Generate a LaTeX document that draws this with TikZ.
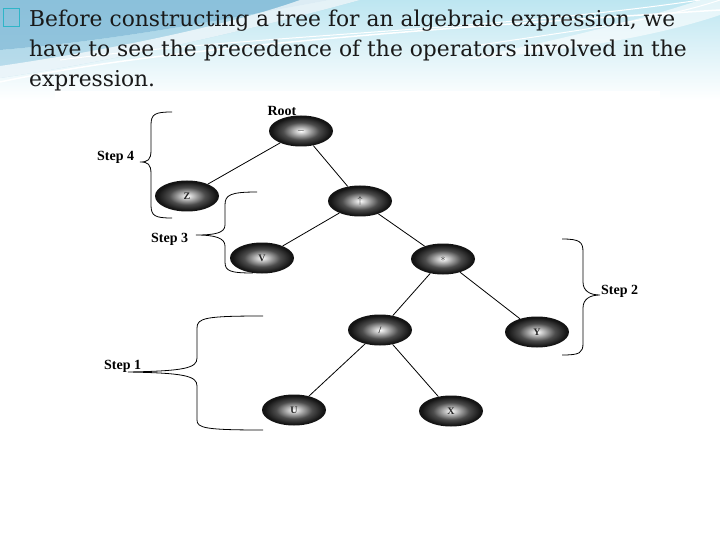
\documentclass[tikz,border=0pt]{standalone}
\usepackage{fontspec}
\newfontfamily\timesfont{Liberation Serif}
\newfontfamily\titlefont{DejaVu Serif}
\usetikzlibrary{shapes.geometric}
\pgfdeclareradialshading{ball}{\pgfpoint{0bp}{0bp}}{color(0bp)=(white); color(6bp)=(black!30); color(14bp)=(black!70); color(23bp)=(black!92); color(50bp)=(black)}
\definecolor{bgblue}{HTML}{7FB8D6}
\definecolor{bgcyan}{HTML}{BDE6F1}
\definecolor{bullet}{HTML}{2FB5C8}
\tikzset{
  tnode/.style={ellipse, shading=ball, minimum width=64pt, minimum height=31pt, inner sep=0pt, font=\timesfont\fontsize{10}{10}\selectfont\bfseries, text=black!85},
  edge/.style={draw=black, line width=0.8pt},
  brace/.style={draw=black, line width=0.8pt},
  steplabel/.style={font=\timesfont\fontsize{14}{14}\selectfont\bfseries, inner sep=0pt, anchor=base west},
  titletext/.style={font=\titlefont\fontsize{21.8}{29}\selectfont, inner sep=0pt, anchor=base west, text=black!90}
}
\begin{document}
\begin{tikzpicture}[x=1pt,y=-1pt]
\useasboundingbox (0,0) rectangle (720,540);
\fill[white] (0,0) rectangle (720,540);
% slide background band
\shade[top color=bgcyan, bottom color=white] (0,0) rectangle (720,100);
\fill[bgblue, opacity=0.8] (0,0) -- (330,0) .. controls (220,20) and (120,40) .. (0,50) -- cycle;
\fill[bgblue!60!bgcyan, opacity=0.6] (0,50) .. controls (120,40) and (220,20) .. (330,0) -- (360,0) .. controls (250,30) and (120,60) .. (0,78) -- cycle;
\fill[white, opacity=0.7] (0,78) .. controls (120,60) and (250,30) .. (360,0) -- (300,0) .. controls (230,25) and (110,50) .. (0,66) -- cycle;
\draw[white, line width=1.5pt] (0,82) .. controls (150,50) and (400,30) .. (720,10);
\draw[white, line width=1pt] (60,60) .. controls (250,35) and (500,30) .. (700,0);
\draw[white, line width=1pt] (480,45) .. controls (580,30) and (660,20) .. (720,0);
\fill[white, opacity=0.6] (700,0) .. controls (640,20) and (560,40) .. (460,60) .. controls (580,50) and (660,35) .. (720,15) -- (720,0) -- cycle;
% title
\draw[bullet, line width=0.8pt] (3,8) rectangle (19,26);
\node[titletext] (t1) at (29,27) {Before constructing a tree for an algebraic expression, we};
\node[titletext] (t2) at (29,57) {have to see the precedence of the operators involved in the};
\node[titletext] (t3) at (29,87) {expression.};
% scanned figure area
\fill[white] (55,91) rectangle (660,440);
% nodes
\node[steplabel, anchor=base] (rootlbl) at (282,116) {Root};
\node[tnode] (root) at (301,131) {$-$};
\node[tnode] (z) at (187,196) {Z};
\node[tnode] (up) at (360,201) {$\uparrow$};
\node[tnode] (v) at (262,258) {V};
\node[tnode] (mul) at (443,259) {$*$};
\node[tnode] (div) at (380,330) {/};
\node[tnode] (y) at (537,332) {Y};
\node[tnode] (u) at (294,410) {U};
\node[tnode] (x) at (451,411) {X};
% edges
\draw[edge] (root) -- (z);
\draw[edge] (root) -- (up);
\draw[edge] (up) -- (v);
\draw[edge] (up) -- (mul);
\draw[edge] (mul) -- (div);
\draw[edge] (mul) -- (y);
\draw[edge] (div) -- (u);
\draw[edge] (div) -- (x);
% braces and step labels
\node[steplabel] (s4) at (97,161) {Step 4};
\draw[brace] (172,112) .. controls (155,112) and (151,114) .. (151,125) -- (151,150) .. controls (151,160) and (148,162) .. (140,162) .. controls (148,162) and (151,164) .. (151,174) -- (151,205) .. controls (151,216) and (155,218) .. (172,218);
\node[steplabel] (s3) at (151,242) {Step 3};
\draw[brace] (257,192) .. controls (230,192) and (225,195) .. (225,205) -- (225,225) .. controls (225,233) and (215,235) .. (196,235) .. controls (215,235) and (225,238) .. (225,246) -- (225,262) .. controls (225,271) and (230,273) .. (253,273);
\node[steplabel] (s2) at (601,294) {Step 2};
\draw[brace] (562,239) .. controls (580,239) and (583,242) .. (583,252) -- (583,282) .. controls (583,291) and (590,295) .. (600,295) .. controls (590,295) and (583,299) .. (583,308) -- (583,343) .. controls (583,353) and (580,355) .. (562,355);
\node[steplabel] (s1) at (104,369) {Step 1};
\draw[brace] (263,316) .. controls (205,316) and (197,318) .. (197,328) -- (197,358) .. controls (197,368) and (185,371) .. (128,372) .. controls (185,373) and (197,376) .. (197,386) -- (197,420) .. controls (197,428) and (205,430) .. (263,430);
\end{tikzpicture}
\end{document}
